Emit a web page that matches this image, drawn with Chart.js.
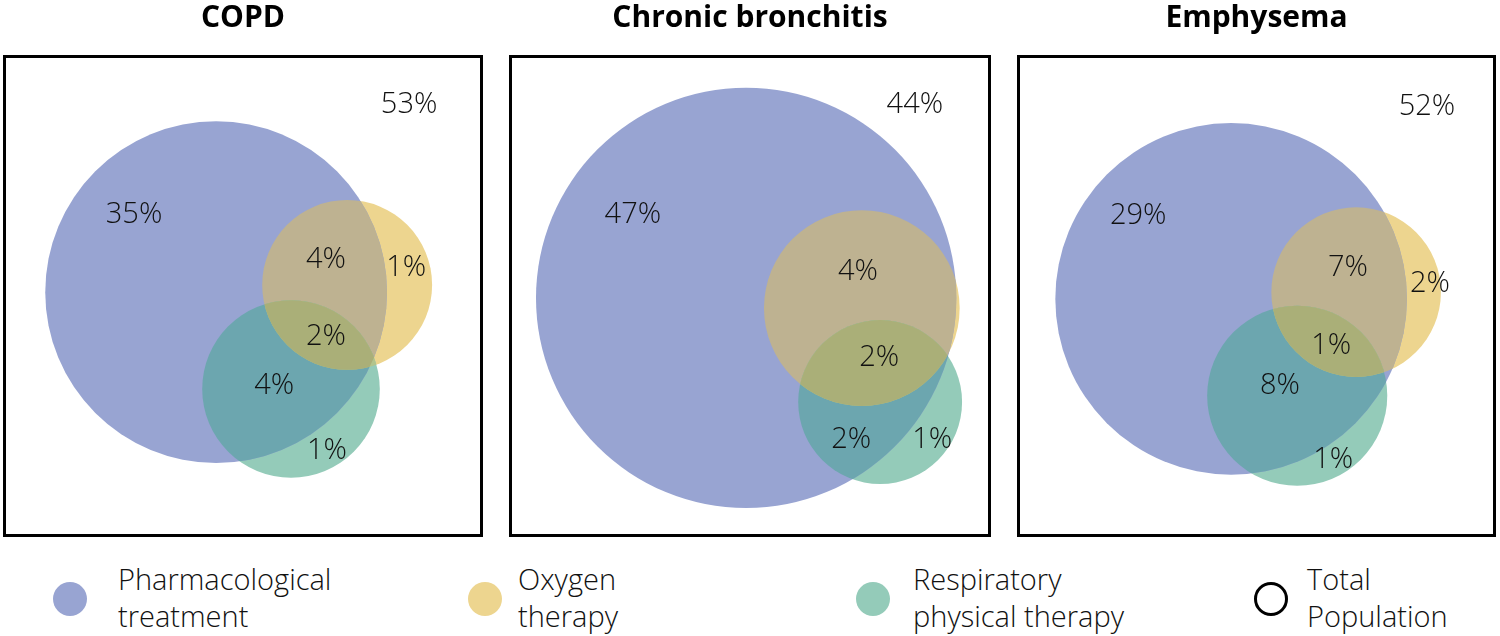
<!DOCTYPE html>
<html>
<head>
<meta charset="utf-8">
<script src="https://cdn.jsdelivr.net/npm/chart.js@4.4.0/dist/chart.umd.min.js"></script>
<style>
  body { margin: 0; background: #fff; width: 1500px; height: 636px; overflow: hidden; position: relative; font-family: "Open Sans", sans-serif; }
  canvas { position: absolute; top: 0; }
  .key { position: absolute; top: 560px; font-size: 29px; font-weight: 300; line-height: 37px; color: #111; }
  .dot { position: absolute; width: 34px; height: 34px; border-radius: 50%; top: 582px; }
</style>
</head>
<body>
<canvas id="p0" width="480" height="537" style="left:3px"></canvas>
<canvas id="p1" width="482" height="537" style="left:509px"></canvas>
<canvas id="p2" width="479" height="537" style="left:1017px"></canvas>

<div class="dot" style="left:53px;background:#98a4d2"></div>
<div class="key" style="left:118px">Pharmacological<br>treatment</div>
<div class="dot" style="left:468px;background:#edd58f"></div>
<div class="key" style="left:518px">Oxygen<br>therapy</div>
<div class="dot" style="left:856px;background:#94cbb9"></div>
<div class="key" style="left:913px">Respiratory<br>physical therapy</div>
<div class="dot" style="left:1254px;width:28px;height:28px;border:3px solid #000"></div>
<div class="key" style="left:1307px">Total<br>Population</div>

<script>
(function () {
  "use strict";

  // panels, in units of the total population box (0..100)
  var panelTitles = ["COPD", "Chronic bronchitis", "Emphysema"];

  var pharmX = [44.4, 49.2, 44.7];
  var pharmY = [50.8, 49.6, 49.4];
  var pharmR = [35.6, 43.6, 36.7];

  var oxyX = [71.7, 73.2, 70.8];
  var oxyY = [52.3, 47.5, 50.8];
  var oxyR = [17.7, 20.3, 17.7];

  var respX = [60.0, 77.0, 58.5];
  var respY = [30.7, 28.0, 29.3];
  var respR = [18.5, 17.0, 18.8];

  // region percentages
  var copdText = ["53%", "35%", "4%", "1%", "2%", "4%", "1%"];
  var copdLX = [84.6, 27.3, 67.3, 84.0, 67.3, 56.5, 67.5];
  var copdLY = [89.6, 66.8, 57.5, 55.8, 41.5, 31.3, 17.8];

  var bronText = ["44%", "47%", "4%", "2%", "2%", "1%"];
  var bronLX = [84.2, 25.7, 72.4, 76.8, 71.0, 87.8];
  var bronLY = [89.6, 66.8, 55.0, 37.1, 20.1, 20.1];

  var emphText = ["52%", "29%", "7%", "2%", "1%", "8%", "1%"];
  var emphLX = [85.6, 25.3, 69.1, 86.2, 65.6, 54.9, 66.0];
  var emphLY = [89.2, 66.6, 55.8, 52.5, 39.6, 31.3, 16.0];

  var labelText = [copdText, bronText, emphText];
  var labelX = [copdLX, bronLX, emphLX];
  var labelY = [copdLY, bronLY, emphLY];

  var BLUE = "#98a4d2", YELLOW = "#edd58f", GREEN = "#94cbb9";
  var BLUE_YELLOW = "#beb291", BLUE_GREEN = "#6ca6af", YELLOW_GREEN = "#b2c48c", ALL = "#aaaf78";

  function radius(c) {
    if (!c.raw) return 0;
    var s = c.chart.scales.x;
    return Math.abs(s.getPixelForValue(c.raw.r) - s.getPixelForValue(0));
  }

  function circlePath(ctx, el) {
    ctx.beginPath();
    ctx.arc(el.x, el.y, el.options.radius, 0, Math.PI * 2);
  }

  // paint the overlap regions of the three circles with their mixed colours
  var overlapPlugin = {
    id: "overlaps",
    afterDatasetsDraw: function (chart) {
      var ctx = chart.ctx;
      var b = chart.getDatasetMeta(0).data[0];
      var g = chart.getDatasetMeta(1).data[0];
      var y = chart.getDatasetMeta(2).data[0];
      function fill(clips, shape, color) {
        ctx.save();
        clips.forEach(function (el) { circlePath(ctx, el); ctx.clip(); });
        circlePath(ctx, shape);
        ctx.fillStyle = color;
        ctx.fill();
        ctx.restore();
      }
      fill([b], y, BLUE_YELLOW);
      fill([b], g, BLUE_GREEN);
      fill([y], g, YELLOW_GREEN);
      fill([b, g], y, ALL);
    }
  };

  var boxPlugin = {
    id: "box",
    afterDraw: function (chart) {
      var a = chart.chartArea;
      var ctx = chart.ctx;
      ctx.save();
      ctx.strokeStyle = "#000";
      ctx.lineWidth = 3;
      ctx.strokeRect(a.left + 1.5, a.top + 1.5, a.right - a.left - 3, a.bottom - a.top - 3);
      ctx.restore();
    }
  };

  var labelPlugin = {
    id: "regionLabels",
    afterDatasetsDraw: function (chart, args, opts) {
      var ctx = chart.ctx;
      var xs = chart.scales.x, ys = chart.scales.y;
      ctx.save();
      ctx.font = "300 29px 'Open Sans'";
      ctx.fillStyle = "#111";
      ctx.textAlign = "center";
      ctx.textBaseline = "middle";
      for (var i = 0; i < opts.text.length; i++) {
        ctx.fillText(opts.text[i], xs.getPixelForValue(opts.x[i]), ys.getPixelForValue(opts.y[i]));
      }
      ctx.restore();
    }
  };

  for (var p = 0; p < panelTitles.length; p++) {
    new Chart(document.getElementById("p" + p), {
      type: "scatter",
      data: {
        datasets: [
          { label: "Pharmacological treatment", data: [{ x: pharmX[p], y: pharmY[p], r: pharmR[p] }], backgroundColor: BLUE },
          { label: "Respiratory physical therapy", data: [{ x: respX[p], y: respY[p], r: respR[p] }], backgroundColor: GREEN },
          { label: "Oxygen therapy", data: [{ x: oxyX[p], y: oxyY[p], r: oxyR[p] }], backgroundColor: YELLOW }
        ]
      },
      options: {
        responsive: false,
        animation: false,
        events: [],
        devicePixelRatio: 1,
        elements: { point: { radius: radius, hoverRadius: radius, borderWidth: 0, hoverBorderWidth: 0 } },
        layout: { padding: 0 },
        scales: {
          x: { type: "linear", min: 0, max: 100, display: false },
          y: { type: "linear", min: 0, max: 100, display: false }
        },
        plugins: {
          legend: { display: false },
          tooltip: { enabled: false },
          title: {
            display: true,
            text: panelTitles[p],
            color: "#000",
            font: { family: "'Open Sans'", size: 30, weight: "bold", lineHeight: 1.2 },
            padding: { top: 0, bottom: 19 }
          },
          regionLabels: { text: labelText[p], x: labelX[p], y: labelY[p] }
        }
      },
      plugins: [overlapPlugin, labelPlugin, boxPlugin]
    });
  }
})();
</script>
</body>
</html>
